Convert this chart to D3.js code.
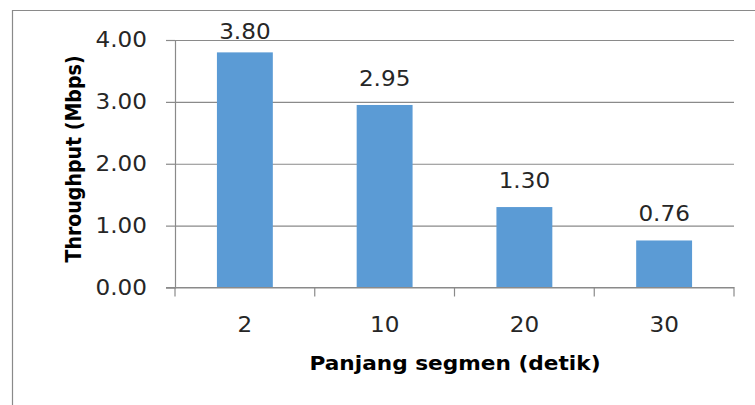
<!DOCTYPE html>
<html>
<head>
<meta charset="utf-8">
<script src="https://cdn.jsdelivr.net/npm/d3@7"></script>
<style>
  html, body { margin: 0; padding: 0; background: #fff; }
  svg { display: block; }
  text { font-family: "DejaVu Sans", sans-serif; }
</style>
</head>
<body>
<svg id="chart" width="755" height="405"></svg>
<script>
// Throughput per segment length
const categories = ["2", "10", "20", "30"];
const throughput = [3.80, 2.95, 1.30, 0.76];
const yTicks = [0, 1, 2, 3, 4];
const xTitle = "Panjang segmen (detik)";
const yTitle = "Throughput (Mbps)";

const W = 755, H = 405;
const plot = { left: 175, right: 734, top: 40, bottom: 287.5 };
const stretch = 1.1;           // glyphs are drawn slightly wide
const barColor = "#5B9BD5";
const lineColor = "#8a8a8a";
const textColor = "#262626";

const svg = d3.select("#chart");

// chart frame (left and top edges)
svg.append("path")
  .attr("d", `M12.5,${H} V10.5 H${W}`)
  .attr("fill", "none")
  .attr("stroke", lineColor)
  .attr("stroke-width", 1.2);

const x = d3.scaleBand()
  .domain(categories)
  .range([plot.left, plot.right])
  .paddingInner(0.6)
  .paddingOuter(0.3);

const y = d3.scaleLinear()
  .domain([0, 4])
  .range([plot.bottom, plot.top]);

// horizontal gridlines
const grid = svg.append("g")
  .attr("transform", `translate(${plot.left},0)`)
  .call(d3.axisLeft(y).tickValues(yTicks).tickSize(-(plot.right - plot.left)).tickFormat(""));
grid.select(".domain").remove();
grid.selectAll(".tick line").attr("stroke", lineColor).attr("stroke-width", 1.2);

// y axis with tick labels
const yAxis = svg.append("g")
  .attr("transform", `translate(${plot.left},0)`)
  .call(d3.axisLeft(y).tickValues(yTicks).tickSize(9).tickPadding(0).tickFormat(d3.format(".2f")));
yAxis.select(".domain").attr("stroke", lineColor).attr("stroke-width", 1.2);
yAxis.selectAll(".tick line").attr("stroke", lineColor).attr("stroke-width", 1.2);
yAxis.selectAll(".tick text")
  .attr("x", null).attr("dy", null)
  .attr("transform", `translate(-28,6.5) scale(${stretch},1)`)
  .attr("text-anchor", "end")
  .attr("fill", textColor)
  .style("font-size", "21px");

// bars
svg.append("g").selectAll("rect")
  .data(categories.map((c, i) => ({ c, v: throughput[i] })))
  .join("rect")
  .attr("x", d => x(d.c))
  .attr("width", x.bandwidth())
  .attr("y", d => y(d.v))
  .attr("height", d => y(0) - y(d.v))
  .attr("fill", barColor);

// x axis line and category boundary ticks
const xAxis = svg.append("g")
  .attr("transform", `translate(0,${plot.bottom})`)
  .call(d3.axisBottom(x).tickSize(0).tickPadding(0));
xAxis.select(".domain").remove();
xAxis.append("line")
  .attr("x1", plot.left - 9).attr("x2", plot.right + 0.5)
  .attr("stroke", lineColor).attr("stroke-width", 1.2);
const bounds = d3.range(categories.length + 1).map(i => plot.left + i * x.step());
xAxis.selectAll(".bound")
  .data(bounds)
  .join("line")
  .attr("class", "bound")
  .attr("x1", d => d).attr("x2", d => d)
  .attr("y1", 0).attr("y2", 9)
  .attr("stroke", lineColor).attr("stroke-width", 1.2);
xAxis.selectAll(".tick text")
  .attr("y", null).attr("dy", null)
  .attr("transform", `translate(0,44.5) scale(${stretch},1)`)
  .attr("fill", textColor)
  .style("font-size", "21px");

// value labels above bars, kept inside the chart area
svg.append("g").selectAll("text")
  .data(categories.map((c, i) => ({ c, v: throughput[i] })))
  .join("text")
  .attr("transform", d => `translate(${x(d.c) + x.bandwidth() / 2},${Math.max(y(d.v) - 19, 39)}) scale(${stretch},1)`)
  .attr("text-anchor", "middle")
  .attr("fill", textColor)
  .style("font-size", "21px")
  .text(d => d3.format(".2f")(d.v));

// axis titles
svg.append("text")
  .attr("transform", `translate(455,370) scale(${stretch + 0.04},1)`)
  .attr("text-anchor", "middle")
  .attr("fill", "#000")
  .style("font-size", "19px")
  .style("font-weight", "bold")
  .text(xTitle);

svg.append("text")
  .attr("transform", `translate(81,159) rotate(-90) scale(1,${stretch})`)
  .attr("text-anchor", "middle")
  .attr("fill", "#000")
  .style("font-size", "19px")
  .style("font-weight", "bold")
  .text(yTitle);
</script>
</body>
</html>
